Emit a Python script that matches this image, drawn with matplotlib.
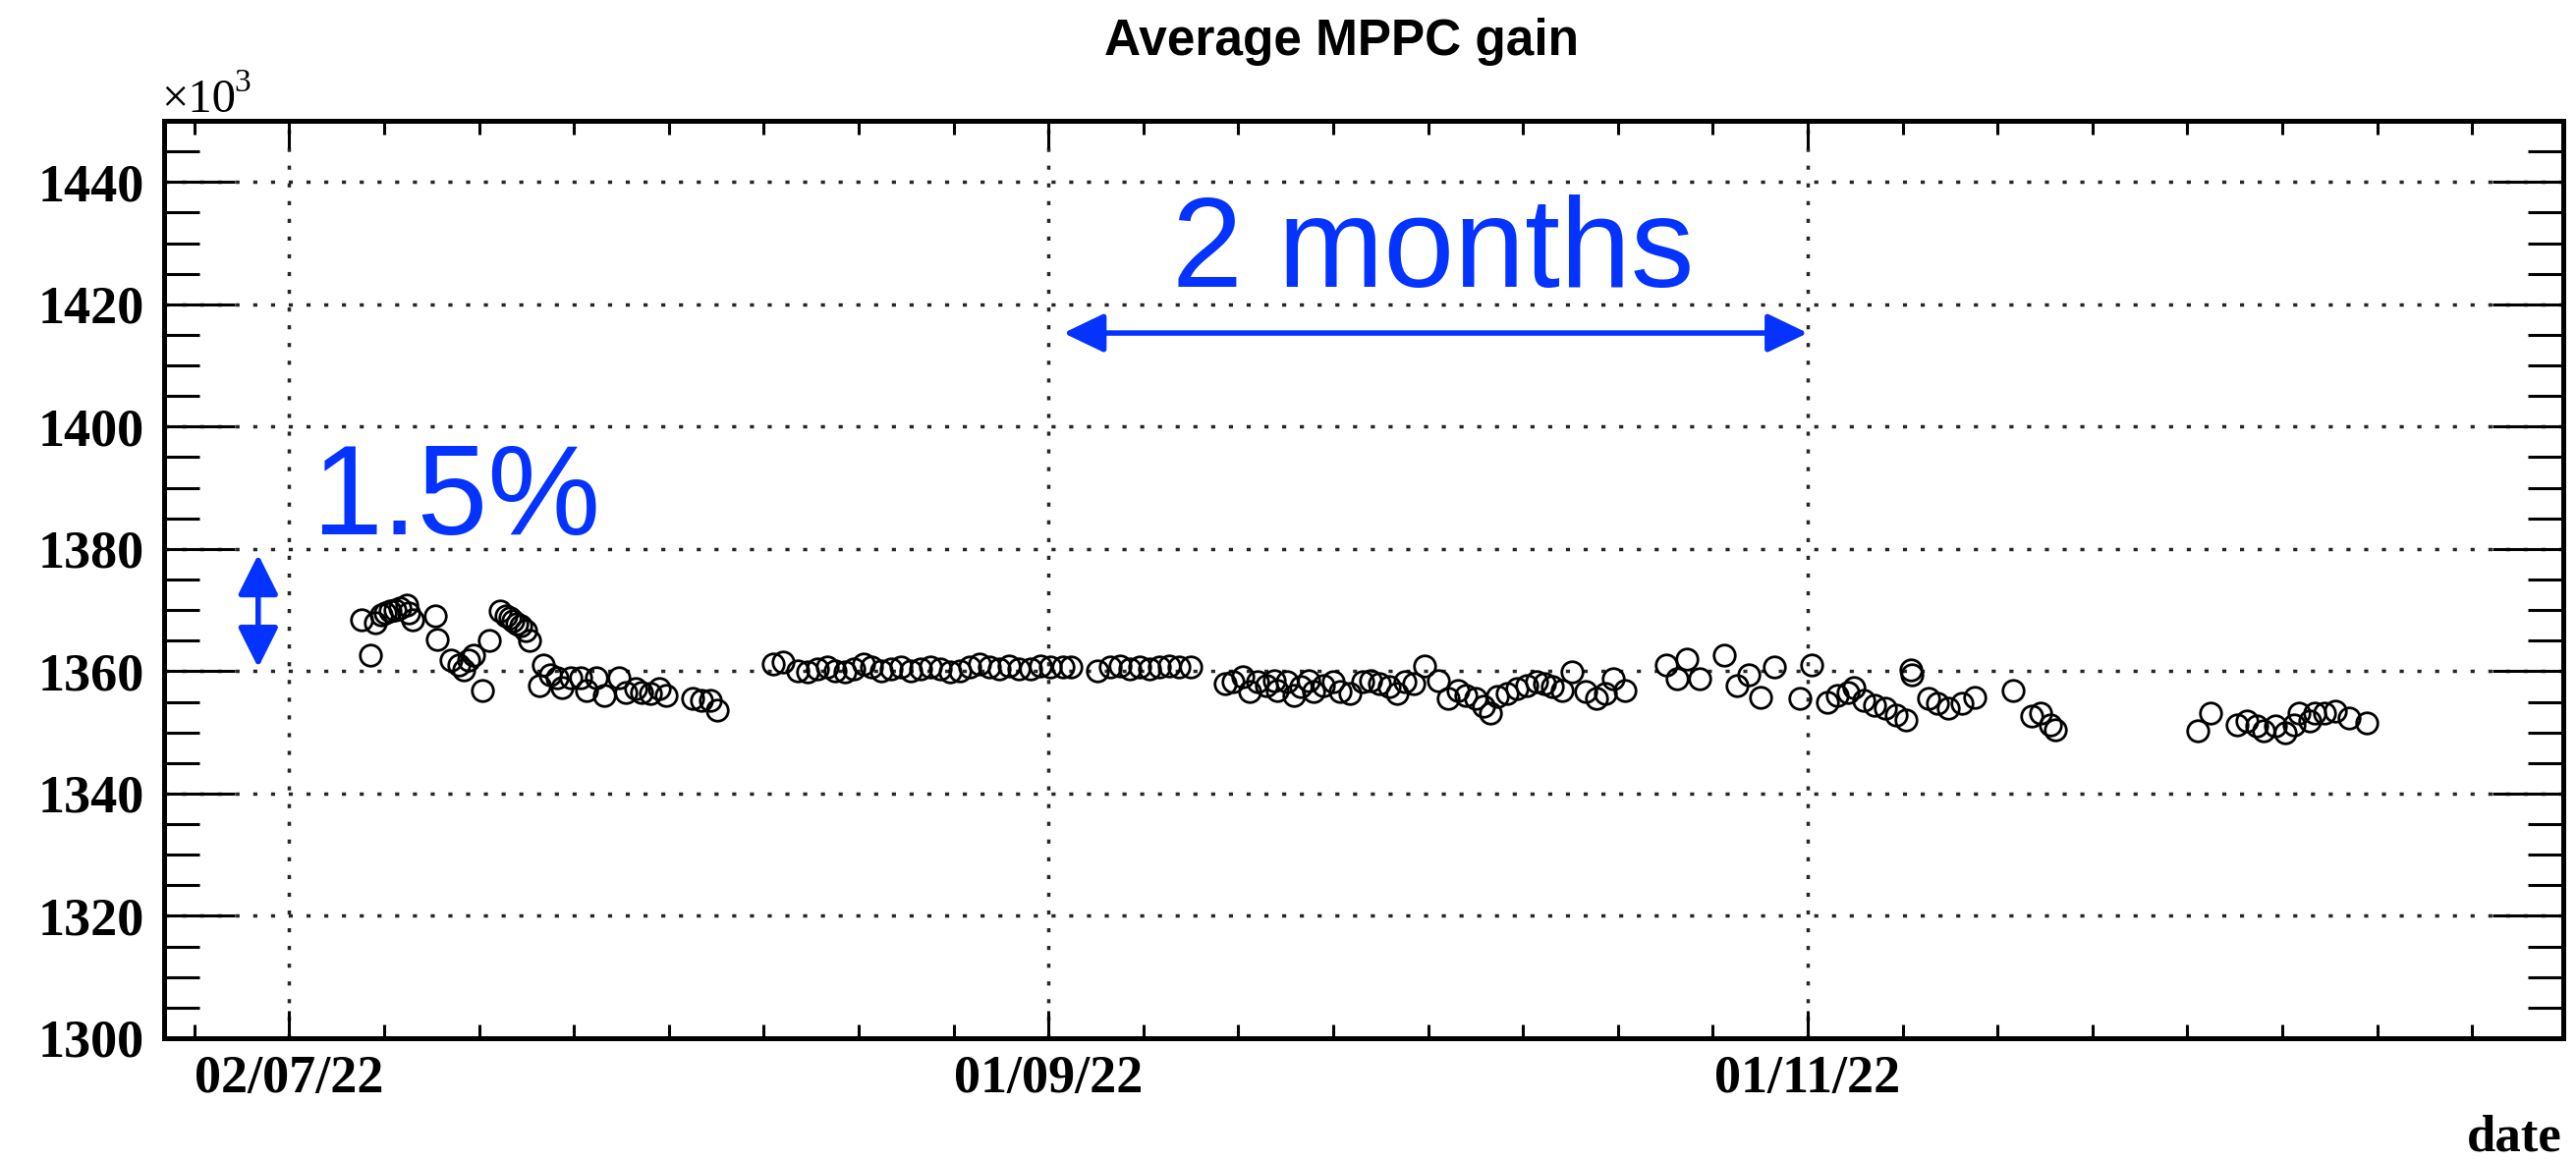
import matplotlib
matplotlib.use("Agg")
import matplotlib.pyplot as plt
from matplotlib.patches import FancyArrowPatch
from matplotlib.ticker import MultipleLocator, FixedLocator

# ---------------- data ----------------
# x: days since 02/07/22 ; y: average gain in units of 10^3
days = [
    5.8, 6.5, 6.9, 7.4, 7.7, 8.1, 8.5, 8.9, 9.4, 9.6, 9.9, 11.7, 11.9, 13.0, 13.6, 14.0,
    14.4, 14.8, 15.5, 16.1, 16.9, 17.4, 17.7, 18.0, 18.3, 18.6, 19.0, 19.3, 20.1, 20.4,
    21.0, 21.5, 21.9, 22.6, 23.4, 23.9, 24.7, 25.3, 26.5, 27.0, 27.8, 28.3, 29.0, 29.7,
    30.3, 32.4, 33.1, 33.8, 34.4,
    38.89, 39.67, 40.86, 41.65, 42.44, 43.23, 43.88, 44.67, 45.33, 46.12, 46.78, 47.57,
    48.36, 49.15, 49.94, 50.73, 51.52, 52.30, 53.09, 53.88, 54.67, 55.46, 56.25, 57.04,
    57.83, 58.62, 59.54, 60.33, 61.11, 62.17, 62.83,
    64.93, 65.98, 66.77, 67.56, 68.35, 69.14, 69.93, 70.72, 71.51, 72.43,
    75.19, 75.85, 76.64, 77.16, 77.82, 78.48, 79.14, 79.40, 80.19, 80.72, 81.24, 81.90,
    82.30, 83.09, 83.87, 84.40, 85.19, 86.24, 86.90, 87.55, 88.34, 89.00, 89.66, 90.32,
    91.24, 92.29, 93.08, 93.87, 94.53, 95.32, 95.98, 96.50, 97.03, 97.82, 98.60, 99.39,
    100.18, 100.84, 101.50, 102.29, 103.08, 104.13, 105.05, 105.71, 106.37, 107.29,
    110.6, 111.5, 112.3, 113.3, 115.3, 116.3, 117.3, 118.2, 119.3, 121.4, 122.3, 123.6,
    124.4, 125.2, 125.7, 126.5, 127.4, 128.2, 129.1, 129.9, 130.3, 130.4, 131.7, 132.4,
    133.3, 134.4, 135.4, 138.5, 140.0, 140.7, 141.5, 141.9,
    153.3, 154.4, 156.5, 157.3, 158.1, 158.6, 159.6, 160.4, 161.1, 161.5, 162.3, 162.7,
    163.5, 164.4, 165.5, 166.9,
]
gain = [
    1368.4, 1362.6, 1367.9, 1369.2, 1369.6, 1369.8, 1370.0, 1370.3, 1370.8, 1369.5, 1368.4,
    1369.0, 1365.2, 1361.8, 1361.1, 1360.3,
    1361.8, 1362.7, 1356.9, 1365.0, 1369.8, 1369.0, 1368.8, 1368.2, 1367.8, 1367.4, 1366.6,
    1365.0, 1357.7, 1361.1,
    1359.5, 1359.0, 1357.4, 1359.0, 1359.0, 1356.9, 1359.0, 1356.1, 1359.0, 1356.6, 1357.1,
    1356.6, 1356.3, 1357.1,
    1356.1, 1355.5, 1355.3, 1355.3, 1353.7,
    1361.18, 1361.45, 1360.11, 1359.84, 1360.37, 1360.64, 1360.11, 1359.84, 1360.37, 1361.18,
    1360.64, 1360.11,
    1360.37, 1360.64, 1360.11, 1360.37, 1360.64, 1360.37, 1359.84, 1360.11, 1360.64, 1361.18,
    1360.64, 1360.37,
    1360.91, 1360.37, 1360.37, 1360.91, 1360.64, 1360.64, 1360.64,
    1360.11, 1360.64, 1360.91, 1360.37, 1360.64, 1360.37, 1360.64, 1360.91, 1360.64, 1360.64,
    1357.96, 1358.23, 1359.03, 1356.62, 1358.23, 1357.69, 1358.50, 1356.89, 1358.23, 1356.09,
    1357.43, 1358.50,
    1356.62, 1357.69, 1358.23, 1356.62, 1356.35, 1358.23, 1358.50, 1357.96, 1357.43, 1356.35,
    1358.23, 1357.96,
    1360.91, 1358.50, 1355.55, 1356.89, 1356.09, 1355.55, 1354.21, 1353.14, 1355.82, 1356.35,
    1357.16, 1357.69,
    1358.23, 1357.96, 1357.43, 1356.89, 1359.84, 1356.62, 1355.55, 1356.35, 1358.77, 1356.89,
    1361.0, 1358.7, 1362.0, 1358.7, 1362.6, 1357.7, 1359.4, 1355.8, 1360.7, 1355.5, 1361.1,
    1355.0,
    1356.1, 1356.6, 1357.4, 1355.3, 1354.5, 1353.9, 1352.9, 1352.1, 1360.2, 1359.4, 1355.5,
    1354.7,
    1353.9, 1354.7, 1355.8, 1356.9, 1352.6, 1353.1, 1351.3, 1350.5,
    1350.2, 1353.1, 1351.3, 1351.8, 1351.0, 1350.2, 1351.0, 1349.9, 1351.3, 1353.1, 1351.8,
    1353.1,
    1353.1, 1353.4, 1352.3, 1351.5,
]
date_tick_days = [0, 61, 122]
date_tick_labels = ["02/07/22", "01/09/22", "01/11/22"]
title = "Average MPPC gain"
xlabel = "date"

# ---------------- layout ----------------
W, H, DPI = 2622, 1181, 100
fig = plt.figure(figsize=(W / DPI, H / DPI), dpi=DPI)
fig.patch.set_facecolor("white")
ax = fig.add_axes([166.5 / W, 1 - 1057 / H, (2609 - 166.5) / W, (1057 - 123) / H])

SERIF = ["Liberation Serif", "DejaVu Serif"]
SANS = ["Liberation Sans", "DejaVu Sans"]
BLUE = "#0433ff"

ax.plot(days, gain, linestyle="none", marker="o", markersize=15.5,
        markerfacecolor="none", markeredgecolor="black", markeredgewidth=2.0, zorder=3)

ax.set_xlim(-10.1, 182.7)
ax.set_ylim(1300, 1450)

# grid (dotted, at major ticks)
for d in date_tick_days:
    ax.axvline(d, color="0.15", lw=2.5, linestyle=(0, (1.2, 4.0)), zorder=1)
for v in range(1320, 1450, 20):
    ax.axhline(v, color="0.15", lw=2.5, linestyle=(0, (1.2, 4.0)), zorder=1)

# ticks
ax.xaxis.set_major_locator(FixedLocator(date_tick_days))
ax.set_xticklabels(date_tick_labels)
ax.xaxis.set_minor_locator(MultipleLocator(61 / 8))
ax.yaxis.set_major_locator(MultipleLocator(20))
ax.yaxis.set_minor_locator(MultipleLocator(5))

ax.tick_params(axis="both", which="both", direction="in", top=True, right=True,
               color="black", width=2.2)
ax.tick_params(axis="y", which="major", length=52, pad=14)
ax.tick_params(axis="y", which="minor", length=26)
ax.tick_params(axis="x", which="major", length=20, pad=12)
ax.tick_params(axis="x", which="minor", length=10)

for lab in ax.get_xticklabels() + ax.get_yticklabels():
    lab.set_fontfamily(SERIF)
    lab.set_fontweight("bold")
    lab.set_fontsize(39)

for s in ax.spines.values():
    s.set_linewidth(3.6)
    s.set_color("black")

# title and axis labels
fig.text(0.521, 1 - 56 / H, title, ha="center", va="baseline",
         fontsize=37, fontweight="bold", family=SANS)
fig.text(2608 / W, 1 - 1172 / H, xlabel, ha="right", va="baseline",
         fontsize=38, fontweight="bold", family=SERIF)
fig.text(164 / W, 1 - 114 / H, "\u00d710", ha="left", va="baseline",
         fontsize=35, family=SERIF)
fig.text(238 / W, 1 - 93 / H, "3", ha="left", va="baseline",
         fontsize=24, family=SERIF)

# annotations
ax.add_patch(FancyArrowPatch((62.2, 1415.3), (122.0, 1415.3),
                             arrowstyle="<|-|>,head_length=25,head_width=12",
                             mutation_scale=1, color=BLUE, lw=4,
                             shrinkA=0, shrinkB=0, zorder=4, clip_on=False))
ax.text(70.9, 1422.9, "2 months", ha="left", va="baseline", fontsize=93,
        color=BLUE, family=SANS, zorder=4)

ax.add_patch(FancyArrowPatch((-2.5, 1379.1), (-2.5, 1360.6),
                             arrowstyle="<|-|>,head_length=25,head_width=12.5",
                             mutation_scale=1, color=BLUE, lw=4,
                             shrinkA=0, shrinkB=0, zorder=4, clip_on=False))
ax.text(1.8, 1382.4, "1.5%", ha="left", va="baseline", fontsize=93,
        color=BLUE, family=SANS, zorder=4)

fig.savefig("out.png", dpi=DPI, facecolor="white")
